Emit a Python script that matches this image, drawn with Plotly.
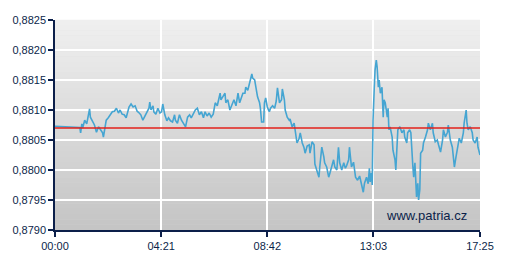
import plotly.graph_objects as go

# time in minutes from 00:00, value of the rate
minutes = [0, 61, 63, 66, 68, 73, 78, 83, 85, 87, 92, 97, 102, 107, 112, 117, 119, 122, 126, 131,
           136, 141, 146, 151, 156, 160, 165, 170, 175, 180, 182, 187, 192, 197, 202, 207, 211, 216, 221, 226,
           231, 233, 236, 241, 243, 248, 253, 258, 262, 265, 270, 275, 279, 284, 289, 294, 296, 301, 306, 311,
           316, 321, 326, 331, 335, 340, 345, 350, 355, 360, 365, 369, 374, 379, 384, 389, 394, 399, 403, 406,
           408, 413, 418, 420, 425, 430, 435, 440, 445, 450, 454, 457, 462, 467, 469, 474, 479, 484, 486, 491,
           493, 498, 503, 505, 508, 513, 515, 518, 522, 527, 530, 535, 540, 544, 547, 552, 557, 559, 564, 566,
           571, 576, 578, 583, 588, 591, 595, 600, 603, 608, 612, 615, 620, 625, 627, 632, 637, 639, 644, 649,
           651, 656, 661, 663, 668, 673, 676, 680, 685, 688, 693, 697, 700, 705, 710, 714, 717, 722, 724, 729,
           734, 739, 744, 749, 753, 758, 761, 766, 770, 773, 775, 778, 780, 782, 785, 787, 790, 792, 795, 797,
           800, 804, 807, 809, 812, 817, 819, 821, 824, 829, 831, 836, 838, 841, 843, 848, 853, 858, 860, 865,
           867, 872, 875, 880, 882, 885, 889, 892, 894, 897, 899, 904, 906, 911, 916, 918, 923, 928, 930, 935,
           940, 943, 948, 953, 955, 960, 965, 967, 972, 977, 979, 982, 986, 991, 994, 999, 1004, 1006, 1011, 1013,
           1016, 1021, 1026, 1028, 1033, 1038, 1040, 1045]
rate = [0.88073, 0.88071, 0.88062, 0.88077, 0.88070, 0.88083, 0.88077, 0.88095, 0.88102, 0.88088,
        0.88080, 0.88075, 0.88063, 0.88072, 0.88067, 0.88062, 0.88055, 0.88070, 0.88083, 0.88087,
        0.88092, 0.88097, 0.88098, 0.88103, 0.88095, 0.88100, 0.88093, 0.88092, 0.88087, 0.88100,
        0.88105, 0.88110, 0.88105, 0.88107, 0.88098, 0.88095, 0.88092, 0.88083, 0.88090, 0.88095,
        0.88103, 0.88113, 0.88100, 0.88107, 0.88097, 0.88093, 0.88103, 0.88095, 0.88097, 0.88110,
        0.88092, 0.88082, 0.88087, 0.88082, 0.88080, 0.88092, 0.88083, 0.88078, 0.88092, 0.88083,
        0.88077, 0.88072, 0.88088, 0.88092, 0.88087, 0.88095, 0.88100, 0.88103, 0.88092, 0.88097,
        0.88087, 0.88097, 0.88090, 0.88095, 0.88088, 0.88093, 0.88112, 0.88107, 0.88117, 0.88128,
        0.88117, 0.88122, 0.88128, 0.88112, 0.88117, 0.88100, 0.88108, 0.88117, 0.88107, 0.88128,
        0.88112, 0.88118, 0.88128, 0.88128, 0.88138, 0.88133, 0.88145, 0.88160, 0.88153, 0.88150,
        0.88142, 0.88122, 0.88112, 0.88103, 0.88080, 0.88080, 0.88112, 0.88120, 0.88105, 0.88097,
        0.88103, 0.88107, 0.88103, 0.88115, 0.88137, 0.88112, 0.88117, 0.88135, 0.88117, 0.88100,
        0.88088, 0.88083, 0.88085, 0.88072, 0.88078, 0.88062, 0.88045, 0.88052, 0.88062, 0.88045,
        0.88038, 0.88028, 0.88040, 0.88042, 0.88028, 0.88047, 0.88042, 0.88010, 0.88000, 0.87988,
        0.88005, 0.88038, 0.88022, 0.88012, 0.88005, 0.87988, 0.87995, 0.88005, 0.88017, 0.88005,
        0.88000, 0.88038, 0.88012, 0.88000, 0.88012, 0.88003, 0.88007, 0.88017, 0.88038, 0.88005,
        0.88013, 0.87988, 0.87983, 0.87990, 0.87975, 0.87963, 0.87978, 0.87988, 0.87977, 0.88003,
        0.87980, 0.87995, 0.87975, 0.88083, 0.88137, 0.88167, 0.88183, 0.88172, 0.88138, 0.88150,
        0.88128, 0.88138, 0.88088, 0.88117, 0.88112, 0.88088, 0.88103, 0.88067, 0.88072, 0.88055,
        0.88033, 0.88017, 0.88000, 0.88045, 0.88067, 0.88072, 0.88062, 0.88067, 0.88055, 0.88045,
        0.88062, 0.88067, 0.88062, 0.88005, 0.87988, 0.88012, 0.87955, 0.87978, 0.87950, 0.87967,
        0.88028, 0.88033, 0.88045, 0.88055, 0.88067, 0.88078, 0.88067, 0.88078, 0.88062, 0.88047,
        0.88050, 0.88042, 0.88030, 0.88050, 0.88067, 0.88055, 0.88063, 0.88075, 0.88050, 0.88038,
        0.88017, 0.88005, 0.88022, 0.88038, 0.88053, 0.88045, 0.88062, 0.88078, 0.88100, 0.88078,
        0.88067, 0.88072, 0.88062, 0.88050, 0.88045, 0.88055, 0.88038, 0.88025]
reference_level = 0.8807

x_tick_vals = [0, 261, 522, 783, 1045]
x_tick_text = ["00:00", "04:21", "08:42", "13:03", "17:25"]
y_tick_vals = [0.8790, 0.8795, 0.8800, 0.8805, 0.8810, 0.8815, 0.8820, 0.8825]
watermark = "www.patria.cz"

navy = "#0c1f4a"
fig = go.Figure()

# gradient background bands
n = 40
top = (240, 240, 240)
bot = (196, 196, 196)
shapes = []
for i in range(n):
    t = (i + 0.5) / n
    c = tuple(round(top[k] + (bot[k] - top[k]) * t) for k in range(3))
    shapes.append(dict(type="rect", xref="x domain", yref="y domain",
                       x0=0, x1=1, y0=1 - (i + 1) / n, y1=1 - i / n + 0.001,
                       fillcolor="rgb(%d,%d,%d)" % c, line=dict(width=0), layer="below"))

fig.add_trace(go.Scatter(x=minutes, y=rate, mode="lines",
                         line=dict(color="#45a5d2", width=1.6)))
fig.add_trace(go.Scatter(x=[x_tick_vals[0], x_tick_vals[-1]], y=[reference_level, reference_level],
                         mode="lines", line=dict(color="#e2201a", width=1.3), hoverinfo="skip"))

fig.update_layout(
    width=509, height=270,
    margin=dict(l=50, r=29, t=20, b=40),
    paper_bgcolor="white", plot_bgcolor="#dcdcdc",
    showlegend=False,
    separators=", ",
    shapes=shapes,
    font=dict(family="Liberation Sans, Arial", size=11, color=navy),
    annotations=[dict(text=watermark, xref="x domain", yref="y domain", x=0.975, y=0.025,
                      xanchor="right", yanchor="bottom", showarrow=False,
                      font=dict(size=13, color=navy))],
)
fig.update_xaxes(range=[0, 1045], tickvals=x_tick_vals, ticktext=x_tick_text,
                 showgrid=True, gridcolor="white", gridwidth=1.5, zeroline=False,
                 showline=True, linecolor=navy, linewidth=1.5,
                 ticks="outside", ticklen=5, tickcolor=navy, tickwidth=1.5)
fig.update_yaxes(range=[0.8790, 0.8825], tickvals=y_tick_vals, tickformat=".4f",
                 showgrid=True, gridcolor="white", gridwidth=1.5, zeroline=False,
                 showline=True, linecolor=navy, linewidth=1.5,
                 ticks="outside", ticklen=5, tickcolor=navy, tickwidth=1.5)

fig.write_html("out.html")
